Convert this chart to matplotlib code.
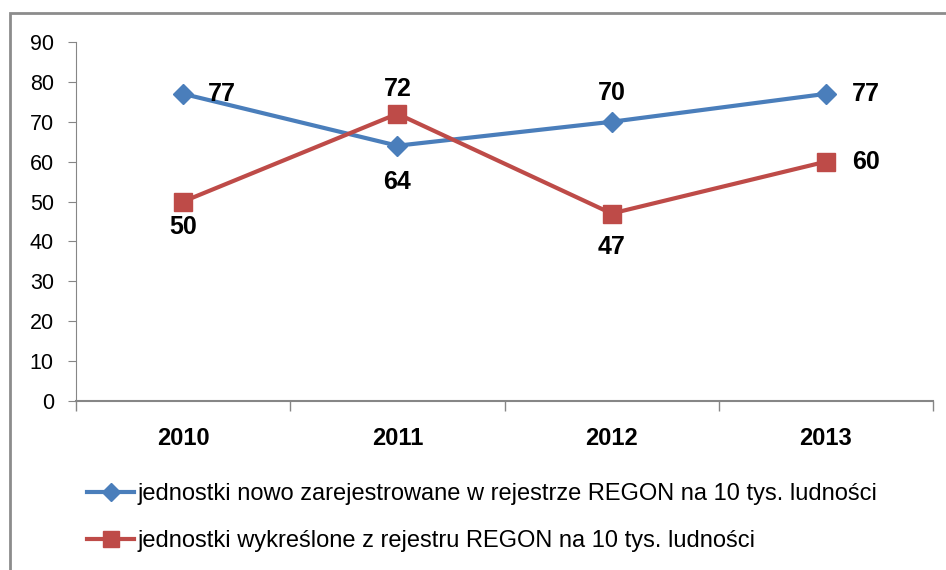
import matplotlib
matplotlib.use("Agg")
import matplotlib.pyplot as plt
from matplotlib.patches import Rectangle
from matplotlib.lines import Line2D

plt.rcParams['font.family'] = ['Liberation Sans', 'DejaVu Sans']

years = ["2010", "2011", "2012", "2013"]
new_units = [77, 64, 70, 77]
removed_units = [50, 72, 47, 60]
series_names = [
    "jednostki nowo zarejestrowane w rejestrze REGON na 10 tys. ludności",
    "jednostki wykreślone z rejestru REGON na 10 tys. ludności",
]
blue = "#4a7ebb"
red = "#be4b48"

fig = plt.figure(figsize=(9.46, 5.70), dpi=100)
fig.patch.set_facecolor("white")
# outer chart frame (clipped at right/bottom)
fig.patches.append(Rectangle((9.5 / 946, -0.1), 1.2, 1.1 - 13.5 / 570,
                             transform=fig.transFigure, fill=False,
                             edgecolor="#8c8c8c", linewidth=2))

ax = fig.add_axes([76 / 946, 1 - 401 / 570, (933 - 76) / 946, (401 - 42) / 570])
x = list(range(len(years)))
ax.plot(x, new_units, color=blue, lw=3, marker="D", ms=10, zorder=3)
ax.plot(x, removed_units, color=red, lw=3, marker="s", ms=13, zorder=3)

ax.set_xlim(-0.5, 3.5)
ax.set_ylim(0, 90)
ax.set_yticks(range(0, 91, 10))
ax.set_xticks(x)
ax.set_xticklabels(years, fontsize=17, fontweight="bold")
ax.set_xticks([-0.5, 0.5, 1.5, 2.5, 3.5], minor=True)
ax.tick_params(axis="x", which="major", length=0, pad=19)
ax.tick_params(axis="x", which="minor", length=7, color="#868686", width=1)
ax.tick_params(axis="y", length=6, color="#868686", labelsize=15.5, pad=10)
for s in ["top", "right"]:
    ax.spines[s].set_visible(False)
ax.spines["left"].set_color("#868686")
ax.spines["bottom"].set_color("#868686")
ax.spines["bottom"].set_linewidth(1.5)

# data labels
lab_kw = dict(fontsize=18, fontweight="bold", color="black")
offsets_new = [(18, 0, "left"), (0, -26, "center"),
               (0, 21, "center"), (19, 0, "left")]
offsets_rem = [(0, -18, "center"), (0, 18, "center"),
               (0, -24, "center"), (19, 0, "left")]
for xi, v, (dx, dy, ha) in zip(x, new_units, offsets_new):
    ax.annotate(str(v), (xi, v), xytext=(dx, dy), textcoords="offset points",
                ha=ha, va="center", **lab_kw)
for xi, v, (dx, dy, ha) in zip(x, removed_units, offsets_rem):
    ax.annotate(str(v), (xi, v), xytext=(dx, dy), textcoords="offset points",
                ha=ha, va="center", **lab_kw)

# legend
handles = [Line2D([], [], color=blue, lw=3, marker="D", ms=9),
           Line2D([], [], color=red, lw=3, marker="s", ms=12)]
fig.legend(handles, series_names, loc="upper left",
           bbox_to_anchor=(66 / 946, 1 - 462 / 570), frameon=False,
           fontsize=17, handlelength=2.0, handletextpad=0.12,
           labelspacing=1.05)

fig.savefig("out.png", dpi=100)
